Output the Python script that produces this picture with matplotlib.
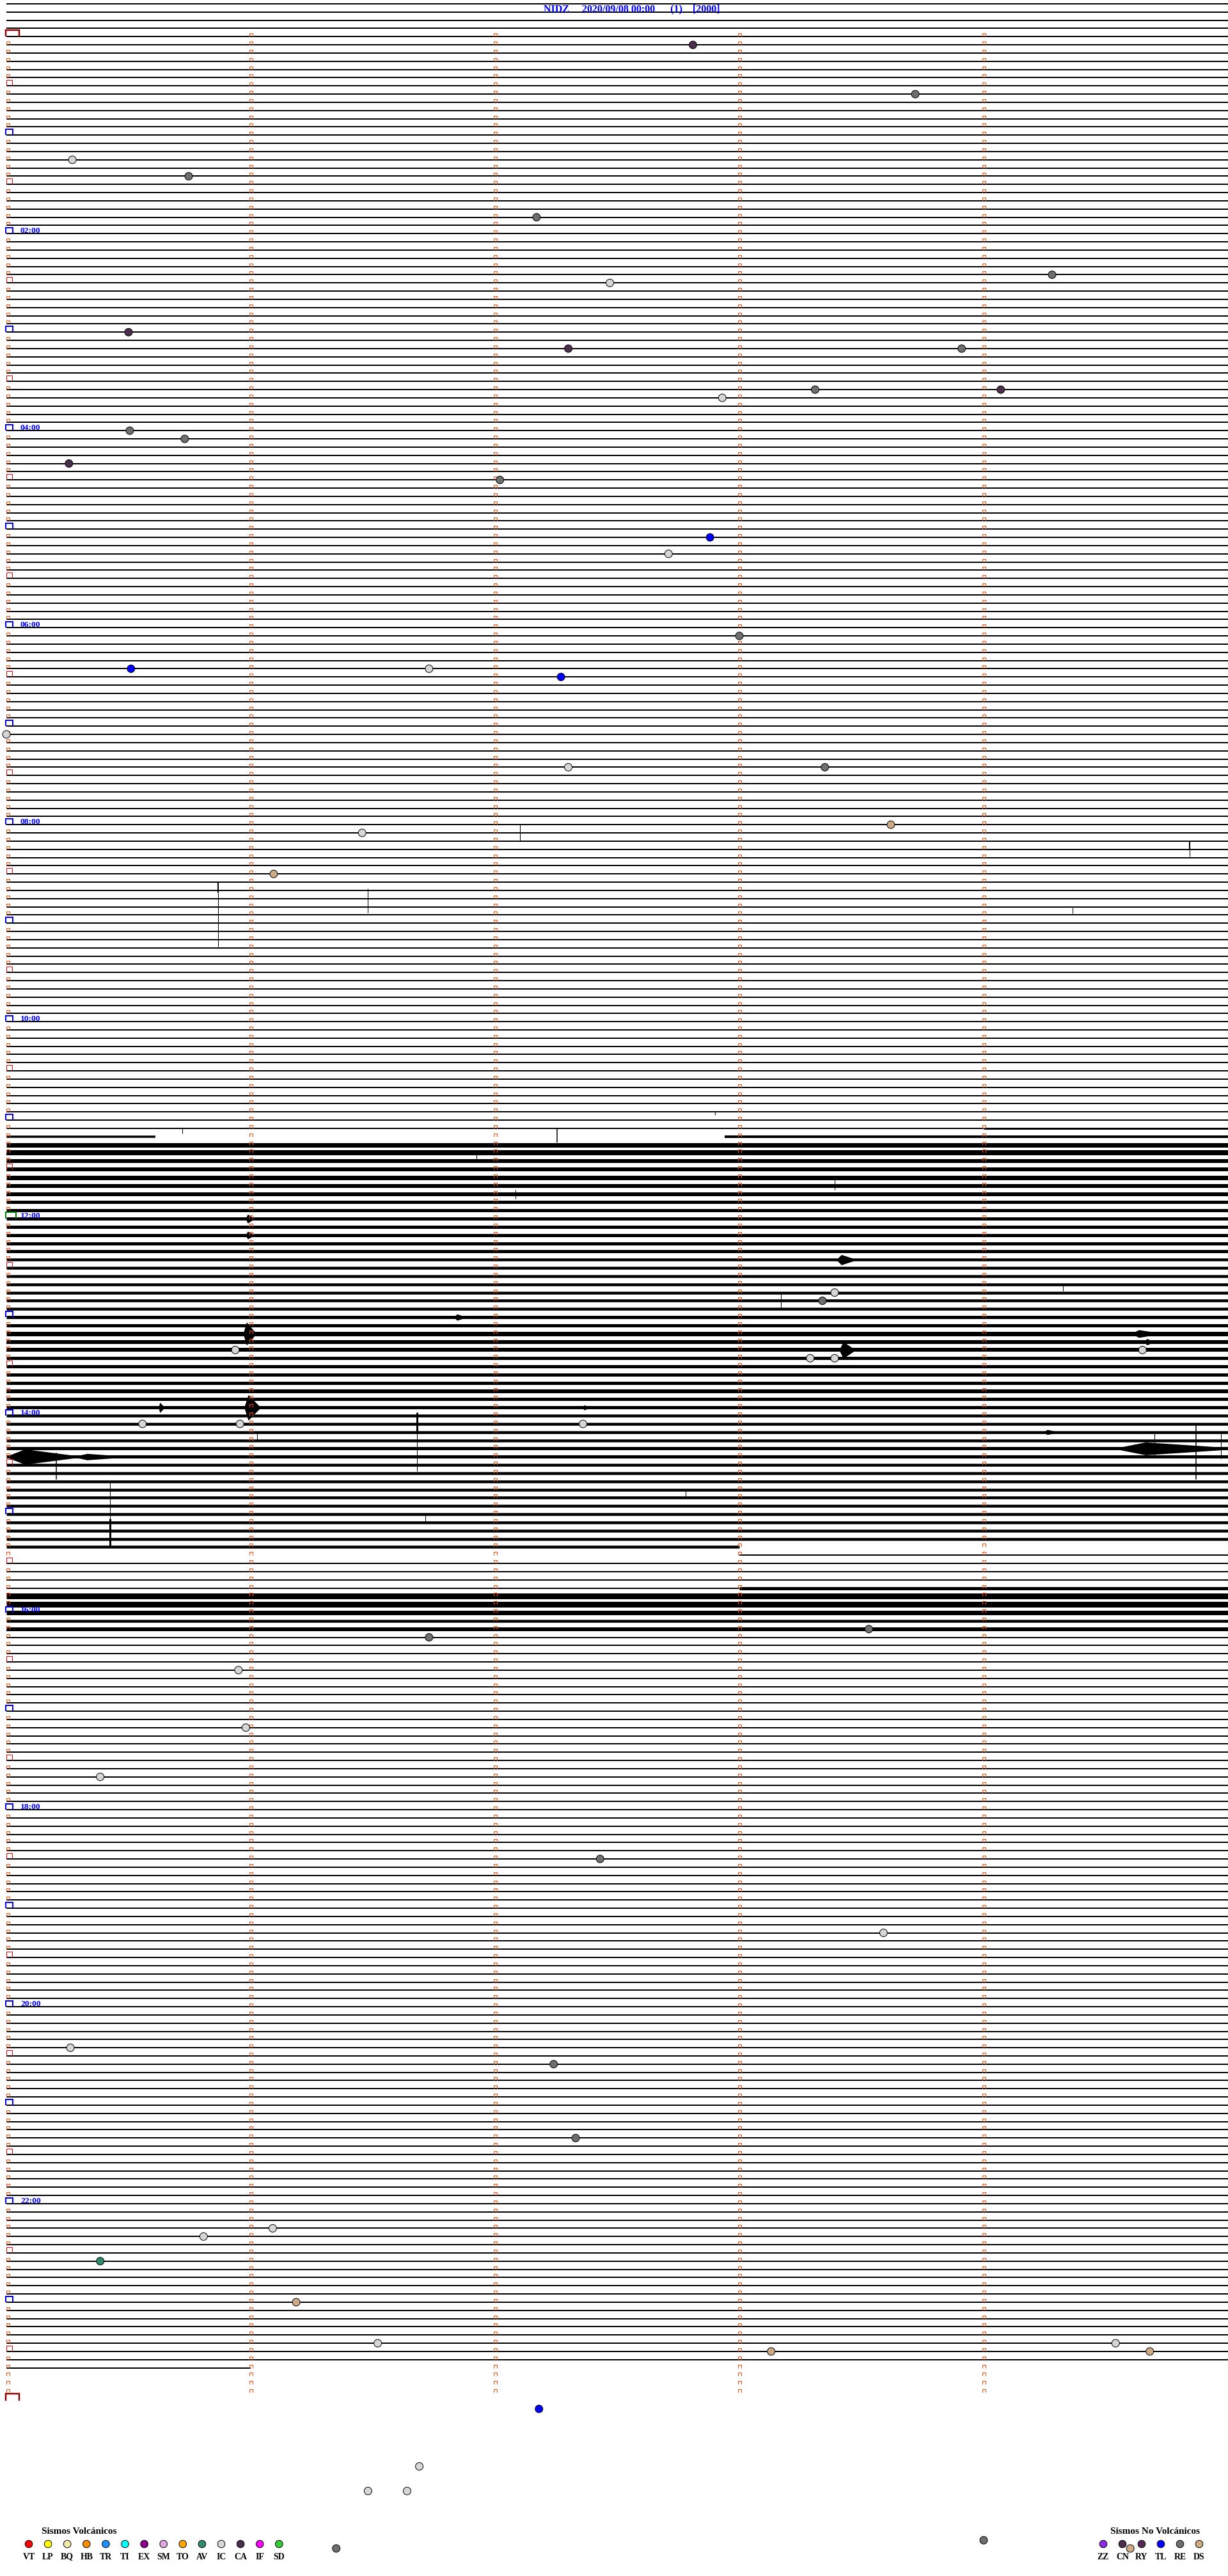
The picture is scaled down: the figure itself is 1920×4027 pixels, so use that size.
import numpy as np
import matplotlib
matplotlib.use('Agg')
import matplotlib.pyplot as plt
from matplotlib.collections import LineCollection

W, H, DPI = 1920, 4027, 100

# helicorder geometry (pixels)
X0 = 10.0        # x of minute 0
PX_MIN = 382.0   # px per minute
Y0 = 6.0         # y of row 0
PX_ROW = 12.832  # px per 5-minute row
PT = 72.0 / DPI  # px -> points

title = 'NIDZ     2020/09/08 00:00      (1)    [2000]'
n_rows = 289          # rows drawn (row 288 only partly)
row_0000 = 4          # first row = 00:00
n_marks = 288         # 5-minute rows with minute marks

# noisy rows (full width), band width in px
noise_rows = list(range(139, 188)) + [194, 195, 196, 197, 198]
noise_width = [7, 8, 6, 6, 7, 6, 6, 5, 5, 5,
               5, 5, 5, 5, 4.5, 4.5, 4.5, 4.5, 4.5, 4.5,
               4.5, 5, 5, 7, 6, 6, 5, 5, 5, 5,
               6, 5, 5, 4.5, 4.5, 4.5, 4.5, 5, 5, 4.5,
               4.5, 4.5, 4.5, 4.5, 4.5, 4.5, 4.5, 4.5, 4.5,
               9, 9, 7, 4.5, 6]

# rows drawn only in pieces (start/end in minutes, width px)
seg_row = [137, 137, 138, 138, 188, 189, 193, 193, 288]
seg_start = [0.0, 4.0, 0.0, 2.94, 0.0, 3.0, 0.0, 3.0, 0.0]
seg_end = [4.0, 5.0, 0.61, 5.0, 3.0, 5.0, 3.0, 5.0, 1.0]
seg_width = [2, 3, 3.5, 4, 4.5, 2, 2, 5, 2]

# bursts: row, minute from, minute to, half amplitude px
burst_row = [153, 162, 162, 164, 160, 163, 171, 171, 171, 177, 177, 176, 174, 148, 150]
burst_x0 = [3.40, 0.97, 4.61, 3.41, 1.835, 4.66, 0.974, 0.623, 2.36, 0.005, 0.288, 4.55, 4.25, 0.98, 0.98]
burst_x1 = [3.47, 1.02, 4.71, 3.47, 1.872, 4.69, 1.037, 0.644, 2.38, 0.288, 0.458, 5.0, 4.29, 1.01, 1.01]
burst_amp = [8, 18, 6, 13, 5, 5, 20, 8, 4, 12, 5, 10, 4, 7, 6]

# spikes: minute, top row, bottom row, width px
spike_x = [2.103, 4.843, 4.843, 0.866, 0.866, 4.365, 1.479, 2.90, 0.72, 2.254,
           1.924, 3.39, 2.084, 3.17, 4.325, 1.681, 1.681, 0.424, 0.424, 1.715,
           2.78, 4.87, 4.70, 4.97, 0.204, 1.026]
spike_top = [100.0, 102.0, 103.0, 107.0, 108.3, 110.1, 107.8, 135.0, 137.0, 137.0,
             140.0, 143.1, 144.5, 157.1, 155.9, 171.6, 174.2, 180.1, 184.5, 184.1,
             181.1, 173.1, 174.0, 174.0, 176.5, 174.0]
spike_bot = [102.0, 103.0, 103.9, 108.3, 114.9, 110.8, 110.7, 135.4, 137.6, 138.7,
             141.1, 144.5, 145.6, 158.9, 156.8, 174.2, 178.8, 184.5, 187.9, 185.2,
             182.0, 179.8, 177.0, 177.2, 179.8, 175.0]
spike_w = [1, 2, 1, 2, 1, 1, 1, 1, 1, 1.5,
           1, 1, 1, 1, 1, 3, 1, 1, 3, 1,
           1, 1.5, 1, 1, 1.5, 1]

# legend classes
volc_codes = ['VT', 'LP', 'BQ', 'HB', 'TR', 'TI', 'EX', 'SM', 'TO', 'AV', 'IC', 'CA', 'IF', 'SD']
volc_colors = ['#FF0000', '#FFFF00', '#EEE8AA', '#FF8C00', '#1E90FF', '#00FFFF', '#8B008B',
               '#E0A8E0', '#FFA500', '#2E8B6E', '#D6D6D6', '#4B2E4B', '#FF00FF', '#32CD32']
nonv_codes = ['ZZ', 'CN', 'RY', 'TL', 'RE', 'DS']
nonv_colors = ['#8A2BE2', '#4B2E4B', '#552A55', '#0000FF', '#6E6E6E', '#CDAA85']

# picked events: class, row, minute in row
ev_type = ['CA', 'RE', 'IC', 'RE', 'RE', 'RE', 'IC', 'CA', 'CA', 'RE',
           'RE', 'CA', 'IC', 'RE', 'RE', 'CA', 'RE', 'TL', 'IC', 'RE',
           'TL', 'IC', 'TL', 'IC', 'IC', 'RE', 'DS', 'IC', 'DS', 'IC',
           'RE', 'IC', 'IC', 'IC', 'IC', 'IC', 'IC', 'IC', 'RE', 'RE',
           'IC', 'IC', 'IC', 'RE', 'IC', 'IC', 'RE', 'RE', 'IC', 'IC',
           'AV', 'DS', 'IC', 'DS', 'IC', 'DS', 'TL', 'IC', 'IC', 'IC',
           'RE', 'RE', 'DS']
ev_row = [5, 11, 19, 21, 26, 33, 34, 40, 42, 42,
          47, 47, 48, 52, 53, 56, 58, 65, 67, 77,
          81, 81, 82, 89, 93, 93, 100, 101, 106, 157,
          158, 164, 165, 165, 164, 173, 173, 173, 198, 199,
          203, 210, 216, 226, 235, 249, 251, 260, 271, 272,
          275, 280, 285, 286, 285, 286, 293, 300, 303, 303,
          310, 309, 310]
ev_min = [2.81, 3.72, 0.27, 0.746, 2.17, 4.28, 2.47, 0.50, 2.30, 3.91,
          3.31, 4.07, 2.93, 0.505, 0.73, 0.256, 2.02, 2.88, 2.71, 3.00,
          0.51, 1.73, 2.27, 0.0, 2.30, 3.35, 3.62, 1.456, 1.094, 3.39,
          3.34, 0.937, 3.29, 3.39, 4.65, 0.557, 0.956, 2.36, 3.53, 1.73,
          0.95, 0.98, 0.384, 2.43, 3.59, 0.262, 2.24, 2.33, 1.09, 0.807,
          0.384, 1.186, 1.52, 3.13, 4.54, 4.68, 2.18, 1.69, 1.48, 1.64,
          1.35, 4.0, 4.6]

fig = plt.figure(figsize=(W / DPI, H / DPI), dpi=DPI)
fig.patch.set_facecolor('white')

# pixel axes for legend layout
pax = fig.add_axes([0, 0, 1, 1])
pax.set_xlim(0, W)
pax.set_ylim(H, 0)
pax.axis('off')

# data axes: x = minute in row, y = row number
ax = fig.add_axes([0, 0, 1, 1])
ax.set_xlim(-X0 / PX_MIN, (W - X0) / PX_MIN)
ax.set_ylim((H - Y0) / PX_ROW, -Y0 / PX_ROW)
ax.axis('off')
ax.patch.set_alpha(0)

# traces
special = set(noise_rows) | set(seg_row)
flat = [r for r in range(n_rows) if r not in special]
ax.hlines(flat, 0, 5, colors='k', linewidth=2 * PT, antialiased=False)
for r, w in zip(noise_rows, noise_width):
    ax.hlines(r, 0, 5, colors='k', linewidth=w * PT)
for r, a, b, w in zip(seg_row, seg_start, seg_end, seg_width):
    ax.hlines(r, a, b, colors='k', linewidth=w * PT, antialiased=(w > 2))
for r, a, b, h in zip(burst_row, burst_x0, burst_x1, burst_amp):
    xs = [a, a + 0.25 * (b - a), b]
    amp = np.array([1.5, h, 1.5]) / PX_ROW
    ax.fill_between(xs, r - amp, r + amp, color='k', linewidth=0)
ax.vlines(spike_x, spike_top, spike_bot, colors='k',
          linewidth=[w * PT for w in spike_w])

# minute marks
def pulse(x, r, w_px, h_px):
    w = w_px / PX_MIN
    h = h_px / PX_ROW
    return [(x, r), (x, r - h), (x + w, r - h), (x + w, r)]

segs, cols, lws = [], [], []
for k in range(n_marks + 1):
    r = row_0000 + k
    if k % 144 == 0:
        if k == 144:
            segs.append(pulse(-0.002, r, 16, 10)); cols.append('#008000'); lws.append(2)
        else:
            segs.append(pulse(-0.002, r, 21, 10.5)); cols.append('#8B0000'); lws.append(2.5)
    elif k % 12 == 0:
        segs.append(pulse(-0.002, r, 11, 9)); cols.append('#0000FF'); lws.append(2)
    elif k % 6 == 0:
        segs.append(pulse(0.0, r, 8.5, 9)); cols.append('#FF0000'); lws.append(1)
    else:
        segs.append(pulse(0.0, r, 5, 5)); cols.append('#FF4500'); lws.append(1)
    if k < n_marks:
        for m in range(1, 5):
            segs.append(pulse(m - 0.004, r, 5, 5)); cols.append('#FF4500'); lws.append(1)
ax.add_collection(LineCollection(segs, colors=cols, linewidths=[l * PT for l in lws],
                                 capstyle='butt', joinstyle='miter'))

# hour labels
serif = 'Liberation Serif'
for hr in range(2, 24, 2):
    ax.text(22 / PX_MIN, row_0000 + hr * 12 - 0.08, f'{hr:02d}:00', color='blue',
            fontsize=9.7, fontweight='bold', family=serif, ha='left', va='baseline')

ax.text((988 - X0) / PX_MIN, 0.93, title, color='blue', fontsize=11.5,
        fontweight='bold', family=serif, ha='center', va='baseline')

# events
color_of = dict(zip(volc_codes + nonv_codes, volc_colors + nonv_colors))
ax.scatter(ev_min, ev_row, s=74, c=[color_of[t] for t in ev_type],
           edgecolors='k', linewidths=0.7, zorder=5)

# legends
lx = [45 + 30.1 * i for i in range(len(volc_codes))]
pax.scatter(lx, [3977] * len(lx), s=70, c=volc_colors, edgecolors='k', linewidths=0.7, zorder=5)
for x, c in zip(lx, volc_codes):
    pax.text(x, 3997, c, ha='center', va='center', fontsize=10, fontweight='bold', family=serif)
pax.text(124, 3957, 'Sismos Volcánicos', ha='center', va='center', fontsize=11,
         fontweight='bold', family=serif)

rx = [1725 + 30 * i for i in range(len(nonv_codes))]
pax.scatter(rx, [3977] * len(rx), s=70, c=nonv_colors, edgecolors='k', linewidths=0.7, zorder=5)
for x, c in zip(rx, nonv_codes):
    pax.text(x, 3997, c, ha='center', va='center', fontsize=10, fontweight='bold', family=serif)
pax.text(1806, 3957, 'Sismos No Volcánicos', ha='center', va='center', fontsize=11,
         fontweight='bold', family=serif)

fig.savefig('out.png', dpi=DPI, facecolor='white')
